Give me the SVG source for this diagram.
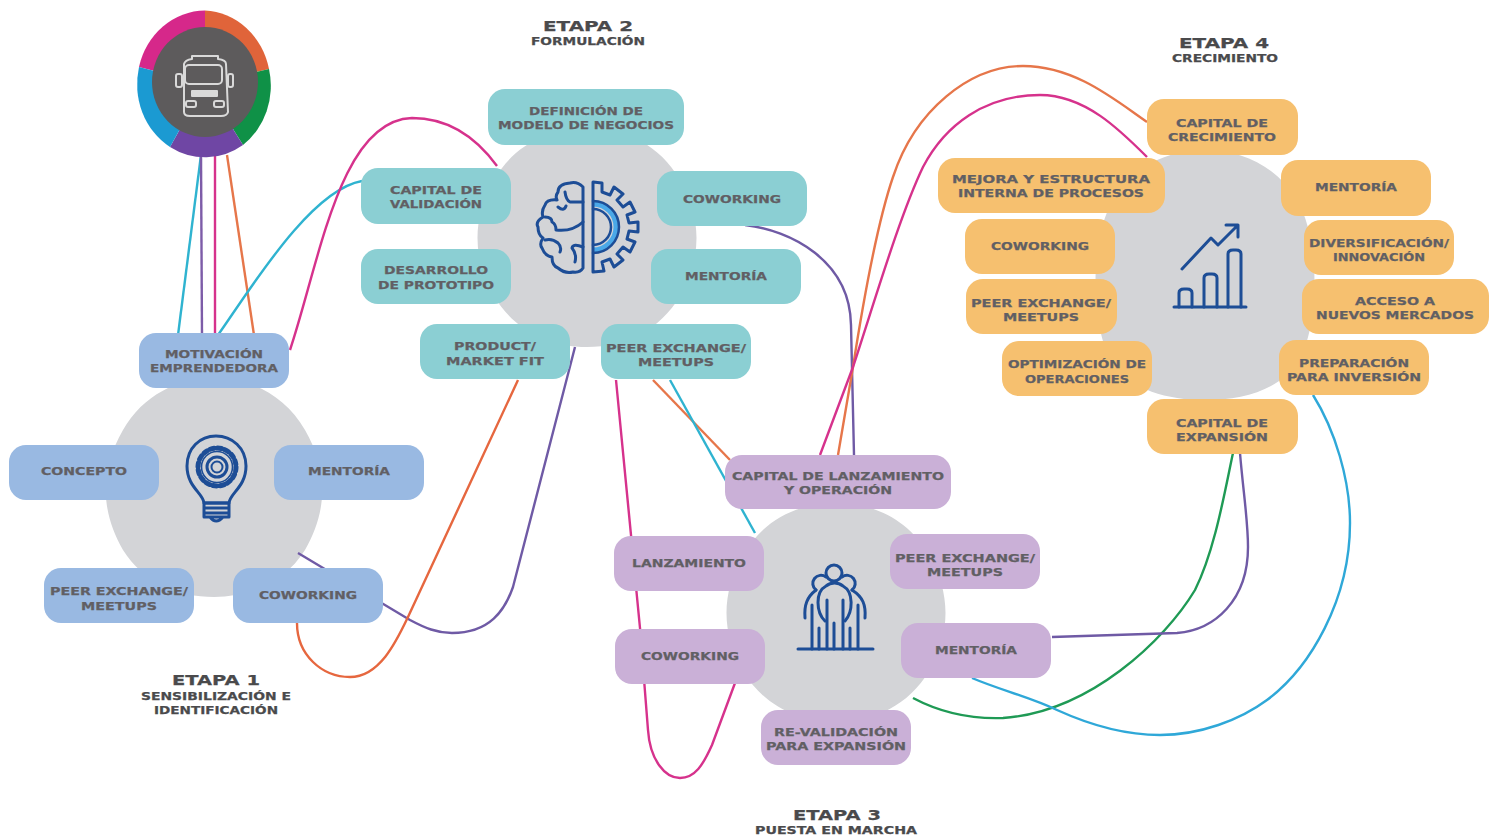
<svg xmlns="http://www.w3.org/2000/svg" width="1489" height="837" viewBox="0 0 1489 837">
<style>
text{font-family:"DejaVu Sans","Liberation Sans",sans-serif;font-weight:700;fill:#615f64;stroke:#615f64;stroke-width:.25;text-anchor:middle;font-size:11px}
.t{fill:#4a4a4c;stroke:#4a4a4c;font-size:14.5px}
.s{fill:#4a4a4c;stroke:#4a4a4c;font-size:10.5px}
.b{fill:#99b9e2}.c{fill:#8bcfd3}.p{fill:#cab0d7}.o{fill:#f6c06f}
.blob{fill:#d3d4d7}
.l{fill:none;stroke-width:2.4}
.i{fill:none;stroke:#1d4d96;stroke-width:3;stroke-linecap:round;stroke-linejoin:round}
</style>
<rect width="1489" height="837" fill="#fff"/>
<g id="blobs">
<path class="blob" d="M214 378C250 378 285 395 305 430C328 470 328 510 305 550C285 582 250 597 214 597C178 597 143 582 123 550C100 510 100 470 123 430C143 395 178 378 214 378Z"/>
<path class="blob" d="M587 128C625 128 660 145 680 180C702 218 702 258 680 296C660 330 625 347 587 347C549 347 514 330 494 296C472 258 472 218 494 180C514 145 549 128 587 128Z"/>
<path class="blob" d="M836 503C874 503 909 520 929 555C951 593 951 633 929 671C909 705 874 722 836 722C798 722 763 705 743 671C721 633 721 593 743 555C763 520 798 503 836 503Z"/>
<path class="blob" d="M1205 150C1243 150 1278 167 1298 202C1320 240 1320 325 1298 363C1278 390 1243 400 1205 400C1167 400 1132 390 1112 363C1090 325 1090 240 1112 202C1132 167 1167 150 1205 150Z"/>
</g>
<g id="connectors">
<path class="l" stroke="#2fb3d0" d="M201 155L178 335"/>
<path class="l" stroke="#7d5ca8" d="M201 155L202 335"/>
<path class="l" stroke="#d6328c" d="M215 155L215 335"/>
<path class="l" stroke="#e6764a" d="M227 155L254 335"/>
<path class="l" stroke="#2fb3d0" d="M218 335C250 290 310 190 362 181"/>
<path class="l" stroke="#d6328c" d="M290 350C320 260 340 120 412 118C450 118 478 140 497 166"/>
<path class="l" stroke="#6f5aa5" d="M298 553L410 620C425 628 437 633 452 633C490 633 505 610 513 587L575 347"/>
<path class="l" stroke="#e6673f" d="M297 623C297 655 322 677 350 677C380 677 397 640 408 617L518 380"/>
<path class="l" stroke="#6f5aa5" d="M745 225C790 230 850 260 851 325L854 455"/>
<path class="l" stroke="#d6328c" d="M616 380L640 628L648 730C650 760 665 778 680 778C695 778 703 765 712 745L735 683"/>
<path class="l" stroke="#e6764a" d="M653 380L730 460"/>
<path class="l" stroke="#2fb3d0" d="M670 380L755 533"/>
<path class="l" stroke="#e6764a" d="M838 455L853 367C865 290 880 215 893 177C915 110 970 66 1023 66C1075 66 1115 100 1147 122"/>
<path class="l" stroke="#d6328c" d="M820 455L853 367C875 300 900 215 923 167C945 125 985 95 1040 95C1085 95 1120 130 1147 157"/>
<path class="l" stroke="#1f9a55" d="M913 698C945 715 975 719 1003 718C1090 712 1165 640 1195 590C1215 550 1225 490 1233 453"/>
<path class="l" stroke="#6f5aa5" d="M1052 637L1177 633C1215 630 1248 600 1248 547C1248 520 1243 490 1240 453"/>
<path class="l" stroke="#2fa8d8" d="M972 678C1000 690 1030 697 1057 710C1090 725 1125 735 1160 735C1200 735 1240 720 1267 700C1310 668 1350 600 1350 523C1350 480 1335 430 1313 395"/>
</g>
<g id="hub">
<path fill="#d6288a" d="M205 84L139 67A68.5 73.5 0 0 1 205 10.500Z"/>
<path fill="#e0643a" d="M205 84L205 10.500A68.500 73.500 0 0 1 269 69Z"/>
<path fill="#0f9147" d="M205 84L269 69A68.500 73.500 0 0 1 243 145Z"/>
<path fill="#6f46a4" d="M205 84L243 145A68.500 73.500 0 0 1 170 147Z"/>
<path fill="#1b9ad2" d="M205 84L170 147A68.500 73.500 0 0 1 139 67Z"/>
<ellipse cx="205" cy="82" rx="53" ry="55" fill="#5d5b5c"/>
<g fill="none" stroke="#d9d9d9" stroke-width="2" stroke-linejoin="round">
<path d="M184 64Q185 60 192 59L192 56L218 56L218 59Q226 60 226 64L228 112Q227 116 221 116L190 116Q184 116 184 112Z"/>
<rect x="185" y="65" width="37" height="19" rx="4"/>
<rect x="176" y="74" width="6" height="13" rx="2"/>
<rect x="228" y="74" width="5" height="13" rx="2"/>
<rect x="192" y="91" width="25" height="5" fill="#d9d9d9"/>
<rect x="186" y="101" width="10" height="6" rx="2"/>
<rect x="214" y="101" width="10" height="6" rx="2"/>
</g>
</g>
<g id="etapa1">
<rect class="b" x="139" y="333" width="150" height="55" rx="17"/><text x="214" y="358"><tspan x="214" textLength="98" lengthAdjust="spacingAndGlyphs">MOTIVACIÓN</tspan><tspan x="214" dy="14" textLength="128" lengthAdjust="spacingAndGlyphs">EMPRENDEDORA</tspan></text>
<rect class="b" x="9" y="445" width="150" height="55" rx="17"/><text x="84" y="475" textLength="86" lengthAdjust="spacingAndGlyphs">CONCEPTO</text>
<rect class="b" x="274" y="445" width="150" height="55" rx="17"/><text x="349" y="475" textLength="82" lengthAdjust="spacingAndGlyphs">MENTORÍA</text>
<rect class="b" x="44" y="568" width="150" height="55" rx="17"/><text x="119" y="595"><tspan x="119" textLength="138" lengthAdjust="spacingAndGlyphs">PEER EXCHANGE/</tspan><tspan x="119" dy="15" textLength="76" lengthAdjust="spacingAndGlyphs">MEETUPS</tspan></text>
<rect class="b" x="233" y="568" width="150" height="55" rx="17"/><text x="308" y="599" textLength="98" lengthAdjust="spacingAndGlyphs">COWORKING</text>
<g class="i">
<path d="M204 503C203 493 187 487 187 466C187 448 200 436 216 436C232 436 246 448 246 466C246 487 230 493 229 503Z"/>
<circle cx="217" cy="467" r="19" stroke-width="5" stroke-dasharray="4 3.460"/><circle cx="217" cy="467" r="15.500" stroke-width="1.600"/><circle cx="217" cy="467" r="10"/><circle cx="217" cy="467" r="5.500" stroke-width="2"/>
<path d="M204 503H229V517H204ZM204 508H229M204 513H229M210 517Q216 525 223 517"/>
</g>
<text class="t" x="216" y="685" textLength="88" lengthAdjust="spacingAndGlyphs">ETAPA 1</text>
<text class="s" x="216" y="700"><tspan x="216" textLength="150" lengthAdjust="spacingAndGlyphs">SENSIBILIZACIÓN E</tspan><tspan x="216" dy="14" textLength="124" lengthAdjust="spacingAndGlyphs">IDENTIFICACIÓN</tspan></text>
</g>
<g id="etapa2">
<rect class="c" x="488" y="89" width="196" height="56" rx="17"/><text x="586" y="115"><tspan x="586" textLength="114" lengthAdjust="spacingAndGlyphs">DEFINICIÓN DE</tspan><tspan x="586" dy="14" textLength="176" lengthAdjust="spacingAndGlyphs">MODELO DE NEGOCIOS</tspan></text>
<rect class="c" x="361" y="168" width="150" height="56" rx="17"/><text x="436" y="194"><tspan x="436" textLength="92" lengthAdjust="spacingAndGlyphs">CAPITAL DE</tspan><tspan x="436" dy="14" textLength="92" lengthAdjust="spacingAndGlyphs">VALIDACIÓN</tspan></text>
<rect class="c" x="657" y="171" width="150" height="55" rx="17"/><text x="732" y="203" textLength="98" lengthAdjust="spacingAndGlyphs">COWORKING</text>
<rect class="c" x="361" y="249" width="150" height="55" rx="17"/><text x="436" y="274"><tspan x="436" textLength="104" lengthAdjust="spacingAndGlyphs">DESARROLLO</tspan><tspan x="436" dy="15" textLength="116" lengthAdjust="spacingAndGlyphs">DE PROTOTIPO</tspan></text>
<rect class="c" x="651" y="249" width="150" height="55" rx="17"/><text x="726" y="280" textLength="82" lengthAdjust="spacingAndGlyphs">MENTORÍA</text>
<rect class="c" x="420" y="324" width="150" height="55" rx="17"/><text x="495" y="350"><tspan x="495" textLength="82" lengthAdjust="spacingAndGlyphs">PRODUCT/</tspan><tspan x="495" dy="15" textLength="98" lengthAdjust="spacingAndGlyphs">MARKET FIT</tspan></text>
<rect class="c" x="601" y="324" width="150" height="55" rx="17"/><text x="676" y="352"><tspan x="676" textLength="140" lengthAdjust="spacingAndGlyphs">PEER EXCHANGE/</tspan><tspan x="676" dy="14" textLength="76" lengthAdjust="spacingAndGlyphs">MEETUPS</tspan></text>
<path d="M593 204A23 23 0 0 1 593 250" fill="none" stroke="#4aa8e8" stroke-width="5"/>
<g class="i">
<path d="M583 187Q577 181 570 183Q558 184 558 192Q555 196 557 200Q547 199 545 205Q541 211 543 217Q535 222 538 227Q538 235 543 238Q539 244 542 248Q545 256 552 257Q552 266 558 268Q565 274 573 272Q580 273 583 268Z"/>
<path d="M565 192Q566 200 570 202H583M545 217Q552 217 552 222Q556 224 556 230Q572 232 583 222M545 240Q552 238 558 243Q562 247 560 252M583 247Q573 243 572 248Q577 254 575 262M558 207Q564 212 566 206"/>
<path d="M593 182L602 183L602 192L610 195L614 187L623 194L617 200L623 207L630 202L635 212L627 215L629 223L638 222V232L629 231L627 239L635 242L630 252L623 247L617 254L623 260L614 267L610 259L602 262L604 271L593 272Z"/>
<path d="M593 201A26 26 0 0 1 593 253" stroke-width="2.500"/>
<path d="M593 209A18 18 0 0 1 593 245" stroke-width="2.500"/>
</g>
<text class="t" x="588" y="31" textLength="90" lengthAdjust="spacingAndGlyphs">ETAPA 2</text>
<text class="s" x="588" y="45" textLength="114" lengthAdjust="spacingAndGlyphs">FORMULACIÓN</text>
</g>
<g id="etapa3">
<rect class="p" x="725" y="455" width="226" height="54" rx="17"/><text x="838" y="480"><tspan x="838" textLength="212" lengthAdjust="spacingAndGlyphs">CAPITAL DE LANZAMIENTO</tspan><tspan x="838" dy="14" textLength="108" lengthAdjust="spacingAndGlyphs">Y OPERACIÓN</tspan></text>
<rect class="p" x="614" y="536" width="150" height="55" rx="17"/><text x="689" y="567" textLength="114" lengthAdjust="spacingAndGlyphs">LANZAMIENTO</text>
<rect class="p" x="890" y="534" width="150" height="55" rx="17"/><text x="965" y="562"><tspan x="965" textLength="140" lengthAdjust="spacingAndGlyphs">PEER EXCHANGE/</tspan><tspan x="965" dy="14" textLength="76" lengthAdjust="spacingAndGlyphs">MEETUPS</tspan></text>
<rect class="p" x="615" y="629" width="150" height="55" rx="17"/><text x="690" y="660" textLength="98" lengthAdjust="spacingAndGlyphs">COWORKING</text>
<rect class="p" x="901" y="623" width="150" height="55" rx="17"/><text x="976" y="654" textLength="82" lengthAdjust="spacingAndGlyphs">MENTORÍA</text>
<rect class="p" x="761" y="710" width="150" height="55" rx="17"/><text x="836" y="736"><tspan x="836" textLength="124" lengthAdjust="spacingAndGlyphs">RE-VALIDACIÓN</tspan><tspan x="836" dy="14" textLength="140" lengthAdjust="spacingAndGlyphs">PARA EXPANSIÓN</tspan></text>
<g class="i">
<path d="M798 649H873"/>
<circle cx="834" cy="573" r="8"/>
<path d="M826 577A7 7 0 1 0 816 590M842 577A7 7 0 1 1 852 590"/>
<path d="M805 618C804 605 807 597 816 590M865 618C866 605 863 597 852 590"/>
<path d="M825 621C816 612 815 592 826 586C831 582 838 582 843 586C854 592 853 612 845 621"/>
<path d="M812 605V649M827 600V649M819 628V649M834 623V649M843 600V649M850 628V649M858 605V649"/>
</g>
<text class="t" x="837" y="820" textLength="88" lengthAdjust="spacingAndGlyphs">ETAPA 3</text>
<text class="s" x="836" y="834" textLength="162" lengthAdjust="spacingAndGlyphs">PUESTA EN MARCHA</text>
</g>
<g id="etapa4">
<rect class="o" x="1147" y="99" width="151" height="56" rx="17"/><text x="1222" y="127"><tspan x="1222" textLength="92" lengthAdjust="spacingAndGlyphs">CAPITAL DE</tspan><tspan x="1222" dy="14" textLength="108" lengthAdjust="spacingAndGlyphs">CRECIMIENTO</tspan></text>
<rect class="o" x="938" y="158" width="227" height="55" rx="17"/><text x="1051" y="183"><tspan x="1051" textLength="198" lengthAdjust="spacingAndGlyphs">MEJORA Y ESTRUCTURA</tspan><tspan x="1051" dy="14" textLength="186" lengthAdjust="spacingAndGlyphs">INTERNA DE PROCESOS</tspan></text>
<rect class="o" x="1281" y="160" width="150" height="56" rx="17"/><text x="1356" y="191" textLength="82" lengthAdjust="spacingAndGlyphs">MENTORÍA</text>
<rect class="o" x="965" y="219" width="150" height="55" rx="17"/><text x="1040" y="250" textLength="98" lengthAdjust="spacingAndGlyphs">COWORKING</text>
<rect class="o" x="1304" y="220" width="150" height="55" rx="17"/><text x="1379" y="247"><tspan x="1379" textLength="140" lengthAdjust="spacingAndGlyphs">DIVERSIFICACIÓN/</tspan><tspan x="1379" dy="14" textLength="92" lengthAdjust="spacingAndGlyphs">INNOVACIÓN</tspan></text>
<rect class="o" x="966" y="279" width="151" height="55" rx="17"/><text x="1041" y="307"><tspan x="1041" textLength="140" lengthAdjust="spacingAndGlyphs">PEER EXCHANGE/</tspan><tspan x="1041" dy="14" textLength="76" lengthAdjust="spacingAndGlyphs">MEETUPS</tspan></text>
<rect class="o" x="1302" y="279" width="187" height="55" rx="17"/><text x="1395" y="305"><tspan x="1395" textLength="80" lengthAdjust="spacingAndGlyphs">ACCESO A</tspan><tspan x="1395" dy="14" textLength="158" lengthAdjust="spacingAndGlyphs">NUEVOS MERCADOS</tspan></text>
<rect class="o" x="1002" y="341" width="150" height="55" rx="17"/><text x="1077" y="368"><tspan x="1077" textLength="138" lengthAdjust="spacingAndGlyphs">OPTIMIZACIÓN DE</tspan><tspan x="1077" dy="15" textLength="104" lengthAdjust="spacingAndGlyphs">OPERACIONES</tspan></text>
<rect class="o" x="1279" y="340" width="150" height="55" rx="17"/><text x="1354" y="367"><tspan x="1354" textLength="110" lengthAdjust="spacingAndGlyphs">PREPARACIÓN</tspan><tspan x="1354" dy="14" textLength="134" lengthAdjust="spacingAndGlyphs">PARA INVERSIÓN</tspan></text>
<rect class="o" x="1147" y="399" width="151" height="55" rx="17"/><text x="1222" y="427"><tspan x="1222" textLength="92" lengthAdjust="spacingAndGlyphs">CAPITAL DE</tspan><tspan x="1222" dy="14" textLength="92" lengthAdjust="spacingAndGlyphs">EXPANSIÓN</tspan></text>
<g class="i">
<path d="M1174 307H1246"/>
<path d="M1179 307V293Q1179 289 1184 289H1187Q1192 289 1192 293V307M1204 307V278Q1204 274 1209 274H1212Q1217 274 1217 278V307M1228 307V254Q1228 250 1233 250H1236Q1241 250 1241 254V307"/>
<path d="M1182 269L1211 238L1218 245L1237 226M1226 225H1238V237"/>
</g>
<text class="t" x="1224" y="48" textLength="90" lengthAdjust="spacingAndGlyphs">ETAPA 4</text>
<text class="s" x="1225" y="62" textLength="106" lengthAdjust="spacingAndGlyphs">CRECIMIENTO</text>
</g>
</svg>
